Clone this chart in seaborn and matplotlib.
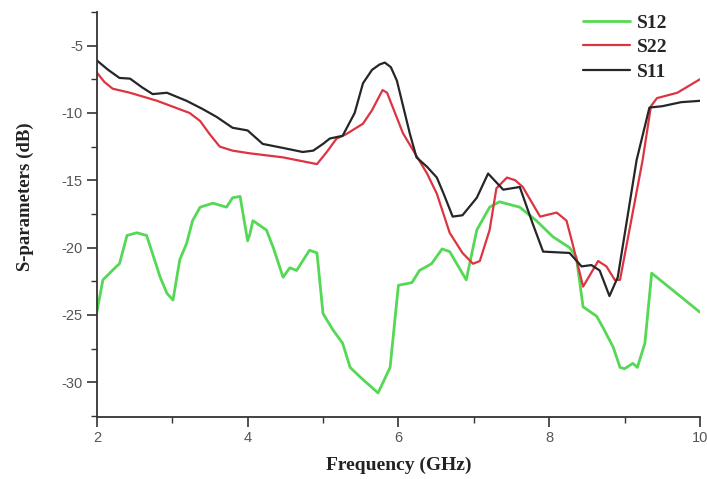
import matplotlib
matplotlib.use("Agg")
import matplotlib.pyplot as plt
import seaborn as sns
import pandas as pd
from matplotlib.ticker import MultipleLocator

# ---- data ----
s11_freq = [2.0, 2.15, 2.3, 2.44, 2.6, 2.74, 2.93, 3.19, 3.4, 3.59, 3.8, 4.0, 4.2, 4.47, 4.73, 4.87,
            5.0, 5.09, 5.26, 5.42, 5.53, 5.65, 5.75, 5.82, 5.9, 5.98, 6.15, 6.24, 6.38, 6.51, 6.6,
            6.72, 6.85, 7.04, 7.19, 7.39, 7.61, 7.78, 7.92, 8.27, 8.43, 8.56, 8.67, 8.8, 8.91,
            9.16, 9.33, 9.5, 9.75, 10.0]
s11_db = [-6.1, -6.8, -7.4, -7.45, -8.1, -8.6, -8.5, -9.1, -9.7, -10.3, -11.1, -11.3, -12.3, -12.6,
          -12.9, -12.8, -12.3, -11.9, -11.7, -10.0, -7.8, -6.8, -6.4, -6.26, -6.6, -7.6, -11.5,
          -13.3, -14.0, -14.8, -16.0, -17.7, -17.6, -16.3, -14.5, -15.7, -15.5, -18.2, -20.3,
          -20.4, -21.4, -21.3, -21.7, -23.6, -22.2, -13.5, -9.6, -9.5, -9.2, -9.1]

s22_freq = [2.0, 2.1, 2.21, 2.44, 2.8, 3.23, 3.37, 3.5, 3.63, 3.8, 4.03, 4.47, 4.92, 5.05, 5.18,
            5.3, 5.53, 5.65, 5.79, 5.85, 6.06, 6.38, 6.51, 6.68, 6.85, 6.99, 7.08, 7.21, 7.3, 7.44,
            7.55, 7.65, 7.88, 8.1, 8.23, 8.31, 8.45, 8.65, 8.76, 8.87, 8.94, 9.24, 9.35, 9.43,
            9.7, 10.0]
s22_db = [-7.0, -7.7, -8.2, -8.5, -9.1, -10.0, -10.6, -11.6, -12.5, -12.8, -13.0, -13.3, -13.8,
          -12.9, -11.9, -11.6, -10.8, -9.8, -8.3, -8.5, -11.5, -14.5, -16.0, -18.9, -20.4, -21.2,
          -21.0, -18.7, -15.6, -14.8, -15.0, -15.5, -17.7, -17.4, -18.0, -19.7, -22.9, -21.0,
          -21.4, -22.4, -22.4, -13.5, -9.5, -8.9, -8.5, -7.5]

s12_freq = [2.0, 2.08, 2.26, 2.3, 2.4, 2.53, 2.66, 2.84, 2.93, 3.01, 3.1, 3.19, 3.27, 3.37, 3.54,
            3.72, 3.8, 3.9, 4.0, 4.03, 4.07, 4.25, 4.34, 4.47, 4.56, 4.65, 4.82, 4.92, 5.0, 5.13,
            5.26, 5.36, 5.49, 5.73, 5.89, 6.0, 6.18, 6.28, 6.44, 6.58, 6.68, 6.9, 7.04, 7.21, 7.34,
            7.61, 7.83, 8.05, 8.27, 8.36, 8.45, 8.63, 8.71, 8.85, 8.94, 9.0, 9.11, 9.17, 9.27,
            9.36, 10.0]
s12_db = [-24.8, -22.4, -21.4, -21.2, -19.1, -18.9, -19.1, -22.2, -23.4, -23.9, -20.9, -19.7,
          -18.0, -17.0, -16.7, -17.0, -16.3, -16.2, -19.5, -19.0, -18.0, -18.7, -20.0, -22.2,
          -21.5, -21.7, -20.2, -20.4, -24.9, -26.1, -27.1, -28.9, -29.6, -30.8, -28.9, -22.8,
          -22.6, -21.7, -21.2, -20.1, -20.3, -22.4, -18.7, -17.0, -16.6, -17.0, -18.0, -19.2,
          -20.0, -20.7, -24.4, -25.1, -25.9, -27.4, -28.9, -29.0, -28.6, -28.9, -27.1, -21.9,
          -24.8]

series_names = ["S12", "S22", "S11"]
series_colors = ["#55d855", "#dc3440", "#262626"]

df = pd.concat([
    pd.DataFrame({"Frequency": s12_freq, "dB": s12_db, "Series": "S12"}),
    pd.DataFrame({"Frequency": s22_freq, "dB": s22_db, "Series": "S22"}),
    pd.DataFrame({"Frequency": s11_freq, "dB": s11_db, "Series": "S11"}),
], ignore_index=True)

sns.set_style("white")
plt.rcParams["font.family"] = ["Liberation Sans", "DejaVu Sans"]

fig = plt.figure(figsize=(7.07, 4.79), dpi=100)
ax = fig.add_axes([0.137, 0.129, 0.853, 0.846])

widths = {"S12": 2.0, "S22": 1.6, "S11": 1.6}
for name, col in zip(series_names, series_colors):
    sub = df[df["Series"] == name]
    sns.lineplot(data=sub, x="Frequency", y="dB", color=col, linewidth=widths[name],
                 label=name, ax=ax, sort=False)

ax.set_xlim(2, 10)
ax.set_ylim(-32.6, -2.5)
ax.xaxis.set_major_locator(MultipleLocator(2))
ax.xaxis.set_minor_locator(MultipleLocator(1))
ax.yaxis.set_minor_locator(MultipleLocator(2.5))
ax.set_yticks([-5, -10, -15, -20, -25, -30])
ax.set_yticklabels(["-5", "-10", "-15", "-20", "-25", "-30"])

for s in ["top", "right"]:
    ax.spines[s].set_visible(False)
for s in ["left", "bottom"]:
    ax.spines[s].set_color("#333333")
    ax.spines[s].set_linewidth(1.3)

ax.tick_params(axis="both", which="major", direction="out", length=7, width=1.2,
               colors="#333333", labelsize=10.5, labelcolor="#555555",
               left=True, bottom=True, pad=3)
ax.tick_params(axis="both", which="minor", direction="out", length=4, width=1.0,
               colors="#333333", left=True, bottom=True)

ax.set_xlabel("Frequency (GHz)", family=["Liberation Serif"], fontweight="bold",
              fontsize=14, color="#222222")
ax.xaxis.set_label_coords(0.5, -0.098)
ax.set_ylabel("S-parameters (dB)", family=["Liberation Serif"], fontweight="bold",
              fontsize=13.5, color="#222222")
ax.yaxis.set_label_coords(-0.105, 0.545)

leg = ax.legend(loc="upper left", bbox_to_anchor=(583 / 707, 1 - 14 / 479),
                bbox_transform=fig.transFigure, frameon=False,
                prop={"family": "Liberation Serif", "weight": "bold", "size": 14},
                handlelength=2.4, handletextpad=0.35, labelspacing=0.36,
                borderaxespad=0, borderpad=0)

fig.savefig("out.png", dpi=100)
